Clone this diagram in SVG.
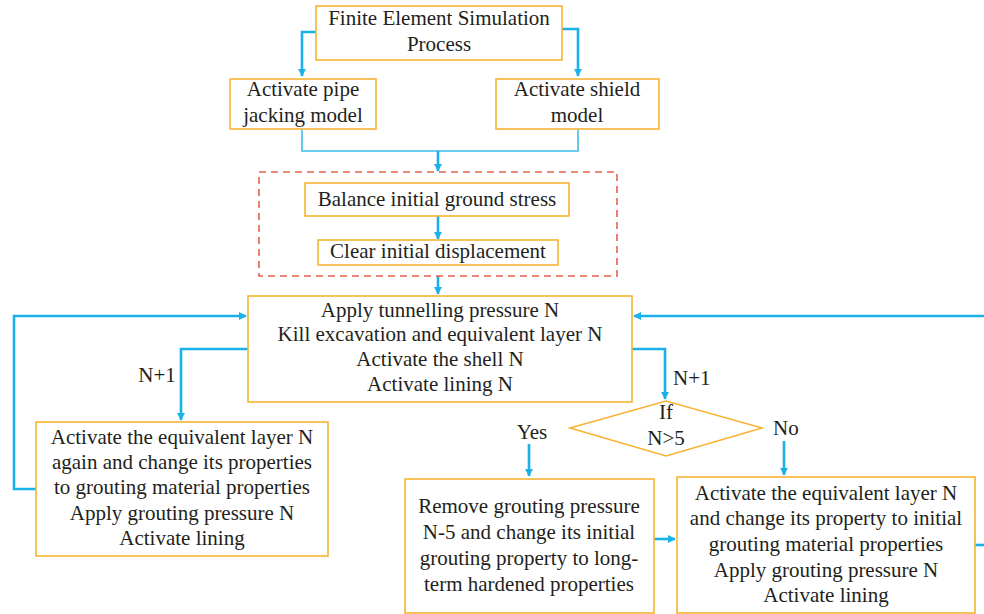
<svg xmlns="http://www.w3.org/2000/svg" width="984" height="614" viewBox="0 0 984 614">
<defs>
<marker id="ah" viewBox="0 0 10 10" refX="9" refY="5" markerWidth="3.2" markerHeight="3.2" orient="auto" markerUnits="strokeWidth">
<path d="M0,0 L10,5 L0,10 z" fill="#1ab0e8"/>
</marker>
<style>
.box{fill:#ffffff;stroke:#f7b333;stroke-width:1.6}
.t{font-family:"Liberation Serif","Times New Roman",serif;font-size:21px;fill:#231f20;text-anchor:middle}
.l{font-family:"Liberation Serif","Times New Roman",serif;font-size:21px;fill:#231f20}
.c{fill:none;stroke:#1ab0e8;stroke-width:2.6}
.cthin{fill:none;stroke:#3cbfea;stroke-width:1.6}
</style>
</defs>
<rect width="984" height="614" fill="#ffffff"/>
<g id="connectors">
<polyline class="c" points="316,32 302,32 302,76" marker-end="url(#ah)"/>
<polyline class="c" points="562,29 578,29 578,76" marker-end="url(#ah)"/>
<polyline class="cthin" points="302,129 302,151 578,151 578,129"/>
<line class="c" x1="438" y1="151" x2="438" y2="171" marker-end="url(#ah)"/>
<line class="c" x1="438" y1="216" x2="438" y2="239" marker-end="url(#ah)"/>
<line class="c" x1="438" y1="276" x2="438" y2="294" marker-end="url(#ah)"/>
<polyline class="c" points="248,349 181,349 181,420" marker-end="url(#ah)"/>
<polyline class="c" points="36,489 14,489 14,316 246,316" marker-end="url(#ah)"/>
<polyline class="c" points="632,349 665,349 665,399" marker-end="url(#ah)"/>
<line class="c" x1="529" y1="444" x2="529" y2="476" marker-end="url(#ah)"/>
<line class="c" x1="784" y1="441" x2="784" y2="475" marker-end="url(#ah)"/>
<line class="c" x1="654" y1="539" x2="675" y2="539" marker-end="url(#ah)"/>
<line class="c" x1="975" y1="545" x2="984" y2="545"/>
<line class="c" x1="984" y1="316" x2="634" y2="316" marker-end="url(#ah)"/>
</g>
<g id="n_start">
<rect class="box" x="316" y="6" width="246" height="54"/>
<text class="t" x="439" y="25">Finite Element Simulation</text>
<text class="t" x="439" y="51">Process</text>
</g>
<g id="n_pipe">
<rect class="box" x="230" y="79" width="146" height="50"/>
<text class="t" x="303" y="96">Activate pipe</text>
<text class="t" x="303" y="122">jacking model</text>
</g>
<g id="n_shield">
<rect class="box" x="496" y="79" width="163" height="50"/>
<text class="t" x="577" y="96">Activate shield</text>
<text class="t" x="577" y="122">model</text>
</g>
<g id="n_group">
<rect x="259" y="172" width="358" height="104" fill="none" stroke="#e8604c" stroke-width="1.6" stroke-dasharray="7,5"/>
</g>
<g id="n_balance">
<rect class="box" x="305" y="183" width="264" height="33"/>
<text class="t" x="437" y="206">Balance initial ground stress</text>
</g>
<g id="n_clear">
<rect class="box" x="318" y="240" width="240" height="25"/>
<text class="t" x="438" y="258">Clear initial displacement</text>
</g>
<g id="n_main">
<rect class="box" x="248" y="296" width="384" height="106"/>
<text class="t" x="440" y="317">Apply tunnelling pressure N</text>
<text class="t" x="440" y="341">Kill excavation and equivalent layer N</text>
<text class="t" x="440" y="366">Activate the shell N</text>
<text class="t" x="440" y="391">Activate lining N</text>
</g>
<g id="n_left">
<rect class="box" x="36" y="422" width="292" height="134"/>
<text class="t" x="182" y="444">Activate the equivalent layer N</text>
<text class="t" x="182" y="469">again and change its properties</text>
<text class="t" x="182" y="494">to grouting material properties</text>
<text class="t" x="182" y="520">Apply grouting pressure N</text>
<text class="t" x="182" y="545">Activate lining</text>
</g>
<g id="n_decision">
<polygon points="570,428 666,401 762,428 666,456" fill="#ffffff" stroke="#f7b333" stroke-width="1.6"/>
<text class="t" x="666" y="419">If</text>
<text class="t" x="666" y="445">N&gt;5</text>
</g>
<g id="n_remove">
<rect class="box" x="405" y="479" width="249" height="134"/>
<text class="t" x="529" y="513">Remove grouting pressure</text>
<text class="t" x="529" y="539">N-5 and change its initial</text>
<text class="t" x="529" y="565">grouting property to long-</text>
<text class="t" x="529" y="591">term hardened properties</text>
</g>
<g id="n_right">
<rect class="box" x="677" y="477" width="298" height="136"/>
<text class="t" x="826" y="500">Activate the equivalent layer N</text>
<text class="t" x="826" y="525">and change its property to initial</text>
<text class="t" x="826" y="551">grouting material properties</text>
<text class="t" x="826" y="577">Apply grouting pressure N</text>
<text class="t" x="826" y="602">Activate lining</text>
</g>
<g id="labels">
<text class="t" x="157" y="382">N+1</text>
<text class="l" x="673" y="385">N+1</text>
<text class="t" x="532" y="439">Yes</text>
<text class="l" x="773" y="435">No</text>
</g>
</svg>
